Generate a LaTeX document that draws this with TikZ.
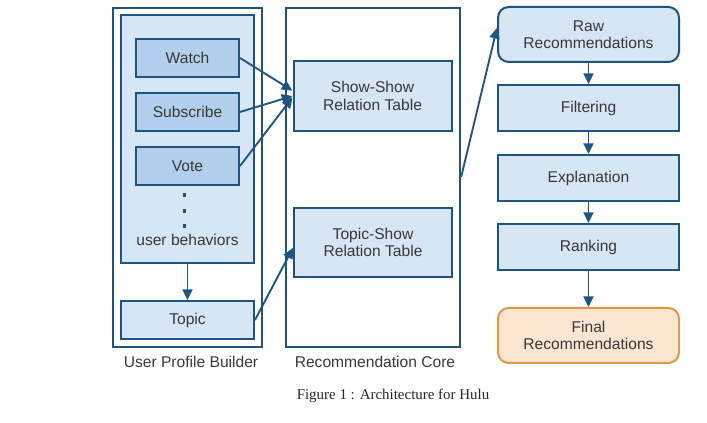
\documentclass[tikz,border=0pt]{standalone}
\usepackage{fontspec}
\setmainfont{Liberation Sans}
\newfontfamily\capfont{Liberation Serif}
\usetikzlibrary{arrows.meta}
\definecolor{edgeblue}{RGB}{31,84,128}
\definecolor{paleblue}{RGB}{214,230,245}
\definecolor{midblue}{RGB}{178,208,236}
\definecolor{paleorange}{RGB}{252,230,210}
\definecolor{edgeorange}{RGB}{224,152,72}
\tikzset{
  frame/.style={draw=edgeblue, line width=1.8pt, inner sep=0pt},
  box/.style={draw=edgeblue, line width=1.5pt, fill=paleblue, align=center, inner sep=0pt},
  behav/.style={box, fill=midblue, minimum width=77.25pt, minimum height=28.5pt},
  stage/.style={box, minimum width=135.75pt, minimum height=34.5pt},
  link/.style={draw=edgeblue, line width=1.4pt, -{Triangle[length=8pt,width=7.5pt]}}
}
\begin{document}
\begin{tikzpicture}[x=0.75pt, y=-0.75pt, font=\fontsize{11.7}{13}\selectfont, text=black!78]
\useasboundingbox (0,0) rectangle (707,423);

% user profile builder
\node [frame, minimum width=111.75pt, minimum height=254.25pt] (upb) at (187.5,177.5) {};
\node [box, minimum width=99.75pt, minimum height=186pt] (beh) at (187.5,139) {};
\node [behav] (watch) at (187.5,58) {Watch};
\node [behav] (subscribe) at (187.5,112) {Subscribe};
\node [behav] (vote) at (187.5,166) {Vote};
\foreach \y in {195,211,226}
  \fill [edgeblue] (182.5,\y-1.5) rectangle ++(3.5,3.5);
\node (userbeh) at (187.5,240) {user behaviors};
\node [box, minimum width=99.75pt, minimum height=28.5pt] (topic) at (187.5,320) {Topic};
\node (upblabel) at (191,362) {User Profile Builder};

% recommendation core
\node [frame, minimum width=130.5pt, minimum height=254.25pt] (core) at (373,177.5) {};
\node [box, minimum width=118.5pt, minimum height=52.5pt] (showshow) at (372.5,96) {Show-Show\\Relation Table};
\node [box, minimum width=118.5pt, minimum height=51.75pt] (topicshow) at (373,242.5) {Topic-Show\\Relation Table};
\node (corelabel) at (375,362) {Recommendation Core};

% pipeline
\node [stage, rounded corners=8pt, minimum height=41.25pt] (raw) at (588.5,34.5) {Raw\\Recommendations};
\node [stage] (filter) at (588.5,108) {Filtering};
\node [stage] (explain) at (588.5,178) {Explanation};
\node [stage] (rank) at (588.5,247) {Ranking};
\node [stage, rounded corners=8pt, minimum height=41.25pt, draw=edgeorange, fill=paleorange] (final) at (588.5,335.5) {Final\\Recommendations};

\node [font=\capfont\fontsize{11.2}{13}\selectfont, text=black!85] (caption) at (393,396) {Figure 1 : Architecture for Hulu};

\draw [link] (watch.east) -- ([yshift=4pt]showshow.west);
\draw [link] (subscribe.east) -- ([yshift=0pt]showshow.west);
\draw [link] (vote.east) -- ([yshift=-1pt]showshow.west);
\draw [link] (beh.south) -- (topic.north);
\draw [link] (topic.east) -- ([yshift=-4pt]topicshow.west);
\draw [link] ([yshift=0.5pt]core.east) -- ([yshift=5pt]raw.west);
\draw [link] (raw) -- (filter);
\draw [link] (filter) -- (explain);
\draw [link] (explain) -- (rank);
\draw [link] (rank) -- (final);

\end{tikzpicture}
\end{document}
